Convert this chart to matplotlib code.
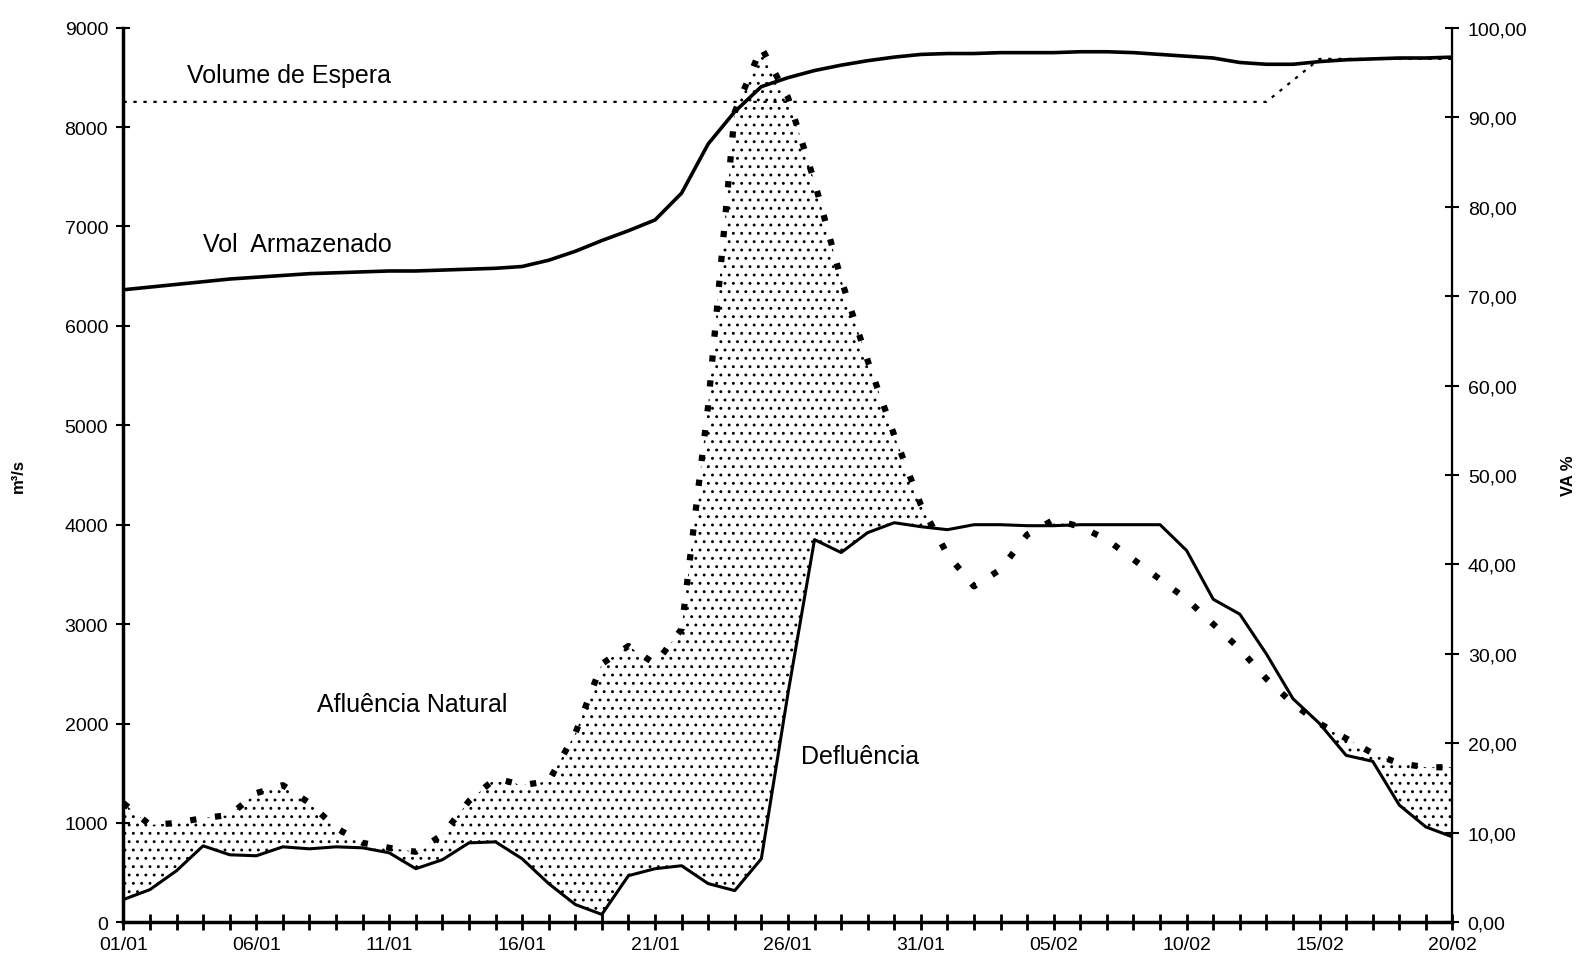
import numpy as np
import matplotlib
matplotlib.use("Agg")
import matplotlib.pyplot as plt

plt.rcParams["font.family"] = ["Liberation Sans", "DejaVu Sans"]
plt.rcParams["hatch.linewidth"] = 0.9

# day index 0 = 01/01 ... 50 = 20/02
days = np.arange(51)
date_labels = ["01/01", "06/01", "11/01", "16/01", "21/01", "26/01",
               "31/01", "05/02", "10/02", "15/02", "20/02"]

# natural inflow (m3/s)
afluencia = [1200, 980, 1000, 1050, 1080, 1300, 1380, 1200, 950, 800,
             750, 710, 880, 1220, 1450, 1380, 1420, 1900, 2600, 2780,
             2600, 2950, 5200, 8150, 8800, 8300, 7450, 6470, 5650, 4900,
             4200, 3700, 3380, 3550, 3900, 4050, 3980, 3850, 3650, 3450,
             3250, 3000, 2750, 2450, 2200, 2000, 1850, 1700, 1600, 1560,
             1560]

# outflow (m3/s)
defluencia = [230, 330, 520, 770, 680, 670, 760, 740, 760, 750,
              700, 540, 630, 800, 810, 640, 390, 180, 80, 470,
              540, 570, 390, 320, 640, 2300, 3850, 3720, 3920, 4020,
              3980, 3950, 4000, 4000, 3990, 3990, 4000, 4000, 4000, 4000,
              3740, 3250, 3100, 2700, 2250, 2000, 1680, 1620, 1180, 960,
              860]

# stored volume (% VA)
vol_armazenado = [70.7, 71.0, 71.3, 71.6, 71.9, 72.1, 72.3, 72.5, 72.6, 72.7,
                  72.8, 72.8, 72.9, 73.0, 73.1, 73.3, 74.0, 75.0, 76.2, 77.3,
                  78.5, 81.5, 87.0, 90.6, 93.4, 94.4, 95.2, 95.8, 96.3, 96.7,
                  97.0, 97.1, 97.1, 97.2, 97.2, 97.2, 97.3, 97.3, 97.2, 97.0,
                  96.8, 96.6, 96.1, 95.9, 95.9, 96.2, 96.4, 96.5, 96.6, 96.6,
                  96.7]

# flood control volume (%)
vol_espera = [91.7] * 44 + [94.1] + [96.5] * 6

afl = np.array(afluencia, dtype=float)
dfl = np.array(defluencia, dtype=float)

fig = plt.figure(figsize=(15.86, 9.79), dpi=100)
ax = fig.add_axes([0.0778, 0.0568, 0.838, 0.914])
ax2 = ax.twinx()

# stippled area between inflow and outflow
ax.fill_between(days, dfl, afl, where=afl >= dfl, interpolate=True,
                facecolor="white", edgecolor="black", hatch="..", linewidth=0)
ax.plot(days, dfl, color="black", linewidth=2.2)
ax.plot(days, afl, color="black", linewidth=4.5, linestyle=(0, (1, 3)))

ax2.plot(days, vol_armazenado, color="black", linewidth=2.6)
ax2.plot(days, vol_espera, color="black", linewidth=1.6, linestyle=(0, (1.5, 3)))

ax.set_xlim(0, 50)
ax.set_ylim(0, 9000)
ax2.set_ylim(0, 100)

ax.set_xticks(days)
ax.set_xticklabels([date_labels[d // 5] if d % 5 == 0 else "" for d in days])
ax.set_yticks(np.arange(0, 9001, 1000))
ax2.set_yticks(np.arange(0, 101, 10))
ax2.set_yticklabels([f"{v:.2f}".replace(".", ",") for v in np.arange(0, 101, 10)])

ax.tick_params(axis="x", direction="inout", length=12, width=2, labelsize=14, pad=4)
ax.tick_params(axis="y", direction="inout", length=10, width=1.5, labelsize=14, pad=6)
ax2.tick_params(axis="y", direction="inout", length=10, width=1.5, labelsize=14, pad=6)

for a in (ax, ax2):
    a.spines["top"].set_visible(False)
ax.spines["left"].set_linewidth(2.5)
ax.spines["bottom"].set_linewidth(2.5)
ax2.spines["right"].set_linewidth(1.6)
ax2.spines["left"].set_visible(False)
ax2.spines["bottom"].set_visible(False)

ax.set_ylabel("m³/s", fontsize=12, fontweight="bold", labelpad=28)
ax2.set_ylabel("VA %", fontsize=12, fontweight="bold", rotation=90, labelpad=24)

ax.text(2.4, 8520, "Volume de Espera", fontsize=18, va="center")
ax.text(3.0, 6824, "Vol  Armazenado", fontsize=18, va="center")
ax.text(7.3, 2197, "Afluência Natural", fontsize=18, va="center")
ax.text(25.5, 1678, "Defluência", fontsize=18, va="center")

fig.savefig("out.png", dpi=100)
